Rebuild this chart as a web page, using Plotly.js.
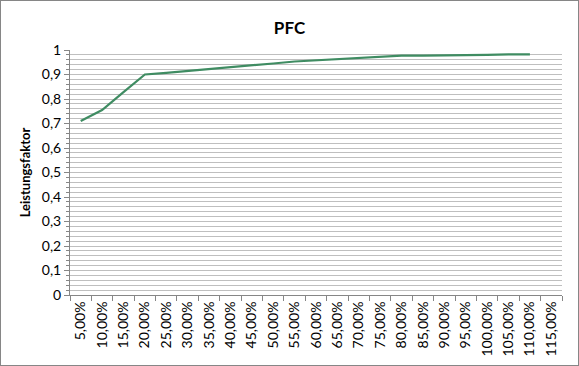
<!DOCTYPE html>
<html>
<head>
<meta charset="utf-8">
<script src="https://cdn.plot.ly/plotly-3.0.1.min.js"></script>
<style>
html,body{margin:0;padding:0;background:#fff;}
#chart{width:577px;height:364px;border:1px solid #868686;}
</style>
</head>
<body>
<div id="chart"></div>
<script>
const categories = ['5,00%','10,00%','15,00%','20,00%','25,00%','30,00%','35,00%','40,00%','45,00%','50,00%','55,00%','60,00%','65,00%','70,00%','75,00%','80,00%','85,00%','90,00%','95,00%','100,00%','105,00%','110,00%','115,00%'];
const leistungsfaktor = [0.71,0.755,0.828,0.90,0.907,0.914,0.921,0.929,0.937,0.945,0.953,0.958,0.963,0.968,0.973,0.977,0.977,0.977,0.977,0.98,0.982,0.982,null];

const gridColor = '#bfbfbf';
const axisColor = '#868686';
const font = 'Lato, "Liberation Sans", sans-serif';

const data = [{
  x: categories,
  y: leistungsfaktor,
  type: 'scatter',
  mode: 'lines',
  line: {color: '#3f8c62', width: 2.2},
  connectgaps: false,
  hoverinfo: 'none'
}];

const layout = {
  width: 577, height: 364,
  margin: {l: 69, r: 16, t: 49, b: 70},
  paper_bgcolor: '#fff', plot_bgcolor: '#fff',
  separators: ',.',
  showlegend: false,
  font: {family: font, color: '#000', size: 14},
  title: {text: 'PFC', font: {family: font, size: 17, weight: 'bold', color: '#000'}, x: 0.5, xanchor: 'center', y: 0.925, yanchor: 'middle'},
  xaxis: {
    type: 'category',
    range: [-0.5, 22.5],
    tickson: 'boundaries',
    ticks: 'outside', ticklen: 5, tickcolor: axisColor,
    showline: true, linecolor: axisColor, linewidth: 1,
    showgrid: false, zeroline: false,
    tickangle: -90,
    tickfont: {family: font, size: 14, color: '#000'},
    fixedrange: true
  },
  yaxis: {
    range: [0, 1],
    dtick: 0.1, tick0: 0,
    ticks: 'outside', ticklen: 5, tickcolor: axisColor,
    showline: true, linecolor: axisColor, linewidth: 1,
    showgrid: true, gridcolor: gridColor, gridwidth: 1,
    zeroline: false,
    minor: {dtick: 0.02, showgrid: true, gridcolor: gridColor, gridwidth: 1, ticks: 'outside', ticklen: 3, tickcolor: axisColor},
    tickfont: {family: font, size: 14, color: '#000'},
    title: {text: 'Leistungsfaktor', font: {family: font, size: 13, weight: 'bold', color: '#000'}, standoff: 8},
    fixedrange: true
  }
};

Plotly.newPlot('chart', data, layout, {displayModeBar: false, staticPlot: true});
</script>
</body>
</html>
